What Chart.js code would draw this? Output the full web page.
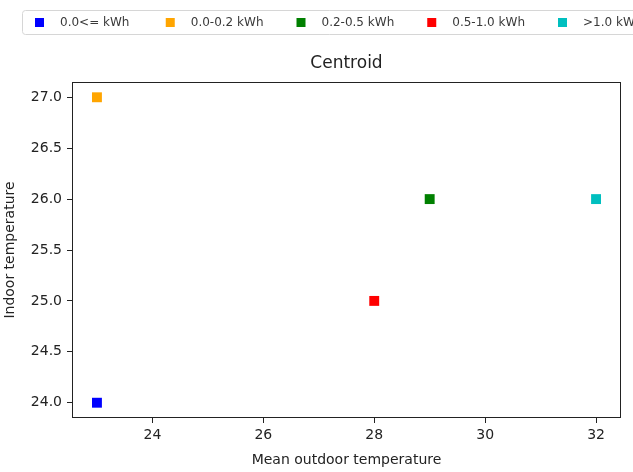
<!DOCTYPE html>
<html>
<head>
<meta charset="utf-8">
<script src="https://cdn.jsdelivr.net/npm/chart.js@4"></script>
<style>
  html, body { margin: 0; padding: 0; background: #fff; }
  #centroid { display: block; }
</style>
</head>
<body>
<canvas id="centroid" width="633" height="472"></canvas>
<script>
// legend labels for the energy groups
var groups = ["0.0<= kWh", "0.0-0.2 kWh", "0.2-0.5 kWh", "0.5-1.0 kWh", ">1.0 kWh"];
// centroid of each group
var meanOutdoor = [23, 23, 29, 28, 32];
var indoorTemp = [24, 27, 26, 25, 26];
var colours = ['#0000ff', '#ffa500', '#008000', '#ff0000', '#00bfbf'];

var xTicks = [24, 26, 28, 30, 32];
var yTicks = [24.0, 24.5, 25.0, 25.5, 26.0, 26.5, 27.0];

var textColour = '#222';
var fontName = "'DejaVu Sans', sans-serif";

// one dataset per group so every group has its own colour
var datasets = [];
for (var i = 0; i < groups.length; i++) {
    datasets.push({
        label: groups[i],
        data: [{x: meanOutdoor[i], y: indoorTemp[i]}],
        backgroundColor: colours[i],
        borderWidth: 0,
        pointStyle: 'rect',
        pointRadius: 7,
        pointHoverRadius: 7
    });
}

// frame, title and the boxed legend on top
var decorations = {
    id: 'decorations',
    afterDraw: function(chart) {
        var ctx = chart.ctx;
        var area = chart.chartArea;
        ctx.save();

        // all four spines
        ctx.strokeStyle = textColour;
        ctx.lineWidth = 1;
        ctx.strokeRect(Math.round(area.left) + 0.5, Math.round(area.top) + 0.5,
            Math.round(area.right - area.left) - 1, Math.round(area.bottom - area.top) - 1);

        // title
        ctx.fillStyle = textColour;
        ctx.font = '17px ' + fontName;
        ctx.textAlign = 'center';
        ctx.textBaseline = 'middle';
        ctx.fillText('Centroid', (area.left + area.right) / 2, 64);

        // legend box (runs off the right side)
        ctx.strokeStyle = '#d6d6d6';
        ctx.beginPath();
        ctx.roundRect(22.5, 10.5, 660, 24, 3);
        ctx.stroke();

        ctx.font = '12px ' + fontName;
        ctx.textAlign = 'left';
        for (var i = 0; i < chart.data.datasets.length; i++) {
            var ds = chart.data.datasets[i];
            var x0 = 35 + i * 130.75;
            ctx.fillStyle = ds.backgroundColor;
            ctx.fillRect(x0, 18, 9, 9);
            ctx.fillStyle = '#3a3a3a';
            ctx.fillText(ds.label, x0 + 25, 22.5);
        }
        ctx.restore();
    }
};

var ctx = document.getElementById('centroid').getContext('2d');
var chart = new Chart(ctx, {
    type: 'scatter',
    data: { datasets: datasets },
    options: {
        responsive: false,
        animation: false,
        layout: { padding: { top: 82, right: 12, bottom: 0, left: 0 } },
        plugins: {
            legend: { display: false },
            title: { display: false },
            tooltip: { enabled: false }
        },
        scales: {
            x: {
                type: 'linear',
                min: 22.55,
                max: 32.45,
                afterBuildTicks: function(scale) {
                    scale.ticks = xTicks.map(function(v) { return {value: v}; });
                },
                afterFit: function(scale) { scale.height = 54; },
                grid: { drawOnChartArea: false, drawTicks: true, tickLength: 5, tickColor: textColour },
                border: { display: false },
                ticks: {
                    padding: 4,
                    color: textColour,
                    font: { family: fontName, size: 14 },
                    callback: function(v) { return v; }
                },
                title: {
                    display: true,
                    text: 'Mean outdoor temperature',
                    color: textColour,
                    font: { family: fontName, size: 14 },
                    padding: { top: 0, bottom: 3 }
                }
            },
            y: {
                type: 'linear',
                min: 23.85,
                max: 27.15,
                afterBuildTicks: function(scale) {
                    scale.ticks = yTicks.map(function(v) { return {value: v}; });
                },
                afterFit: function(scale) { scale.width = 72; },
                grid: { drawOnChartArea: false, drawTicks: true, tickLength: 5, tickColor: textColour },
                border: { display: false },
                ticks: {
                    padding: 5,
                    color: textColour,
                    font: { family: fontName, size: 14 },
                    callback: function(v) { return v.toFixed(1); }
                },
                title: {
                    display: true,
                    text: 'Indoor temperature',
                    color: textColour,
                    font: { family: fontName, size: 14 },
                    padding: { top: 2, bottom: 0 }
                }
            }
        }
    },
    plugins: [decorations]
});
</script>
</body>
</html>
